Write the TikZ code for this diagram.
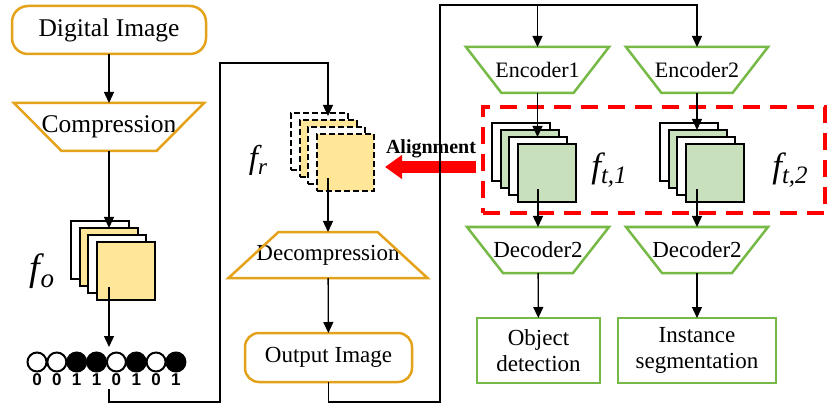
\documentclass[tikz,border=0pt]{standalone}
\usepackage{fontspec}
\setmainfont{Liberation Serif}
\newfontfamily\digitfont{Liberation Sans}
\usetikzlibrary{arrows.meta,calc}

\definecolor{goldline}{HTML}{E3A21A}
\definecolor{goldfill}{HTML}{FFE699}
\definecolor{leafline}{HTML}{76B947}
\definecolor{leaffill}{HTML}{C8E0BC}
\definecolor{alignred}{HTML}{FF0000}

\newcommand\fsz[2]{\fontsize{#1}{#2}\selectfont}

% outline of a trapezoid around a rectangular node: wide edge on top
\newcommand\trapdown[3]{%
  \draw[#2] (#1.north west) -- (#1.north east) -- ($(#1.south east)+(-#3,0)$)
    -- ($(#1.south west)+(#3,0)$) -- cycle;}
% wide edge at the bottom
\newcommand\trapup[3]{%
  \draw[#2] (#1.south west) -- (#1.south east) -- ($(#1.north east)+(-#3,0)$)
    -- ($(#1.north west)+(#3,0)$) -- cycle;}

% a stack of four feature maps; #1 prefix, #2,#3 top-left of the back map,
% #4 fill of maps 2 and 4, #5 border style, #6 side length
\newcommand\featstack[6]{%
  \foreach \i/\c in {1/white,2/#4,3/white,4/#4}{
    \node[stackmap,#5,fill=\c,minimum size=#6]
      (#1\i) at ({#2+8.67*(\i-1)+#6/2},{#3+7*(\i-1)+#6/2}) {};
  }}

\begin{document}
\begin{tikzpicture}[x=1pt,y=-1pt,
  conn/.style={line width=1.3pt,black},
  arr/.style={conn,-{Triangle[width=10pt,length=11pt]}},
  goldround/.style={draw=goldline,line width=2.5pt,rounded corners=16pt,
    inner sep=0pt,outer sep=0pt,font=\fsz{23}{26}},
  leafrect/.style={draw=leafline,line width=2.5pt,inner sep=0pt,outer sep=0pt,
    align=center,font=\fsz{23}{26}},
  trapnode/.style={inner sep=0pt,outer sep=0pt,font=\fsz{23}{26}},
  goldtrap/.style={draw=goldline,line width=2.5pt},
  leaftrap/.style={draw=leafline,line width=2.5pt},
  stackmap/.style={draw=black,line width=2.2pt,inner sep=0pt,outer sep=0pt},
  solidmap/.style={},
  dashmap/.style={dash pattern=on 6pt off 3pt},
  bitopen/.style={circle,draw=black,line width=2pt,fill=white,minimum size=19pt,inner sep=0pt},
  bitset/.style={circle,draw=black,line width=2pt,fill=black,minimum size=19pt,inner sep=0pt},
  bitdigit/.style={font=\digitfont\bfseries\fsz{17}{17},inner sep=0pt},
  flabel/.style={inner sep=0pt},
  tbox/.style={draw=alignred,line width=4pt,dash pattern=on 17pt off 10pt,
    inner sep=0pt,outer sep=0pt},
  redarrow/.style={draw=alignred,line width=12pt,
    -{Triangle[width=23pt,length=17pt]}},
]
\useasboundingbox (0,0) rectangle (827,406);

% ---------------- compression branch ----------------
\node[goldround,font=\fsz{25.5}{28},minimum width=194pt,minimum height=48pt] (dig) at (109,30) {Digital Image};
\node[trapnode,font=\fsz{25.5}{28},minimum width=190pt,minimum height=48pt] (comp) at (109,127) {Compression};
\trapdown{comp}{goldtrap}{47.5}

\featstack{fo}{71}{221}{goldfill}{solidmap}{58}
\node[flabel] (folab) at (42,271)
  {\fsz{38}{38}\itshape f\raisebox{-7pt}{\fsz{27}{27}o}};

\foreach \b [count=\k] in {0,0,1,1,0,1,0,1}{
  \ifnum\b=1
    \node[bitset] (bit\k) at ({37+19.85*(\k-1)},362) {};
  \else
    \node[bitopen] (bit\k) at ({37+19.85*(\k-1)},362) {};
  \fi
  \node[bitdigit] (dig\k) at ({37+19.85*(\k-1)},380) {\b};
}
\coordinate (bitin) at (109,347);
\coordinate (bitout) at (109,389);

\draw[arr] (dig) -- (comp);
\draw[arr] (comp) -- (comp.south |- fo2.north);
\draw[arr] ($(fo4.south -| comp.south)+(0,-13)$) -- (bitin);

% ---------------- decompression branch ----------------
\node[trapnode,minimum width=199pt,minimum height=46pt] (decomp) at (328,255) {Decompression};
\trapup{decomp}{goldtrap}{50}
\node[goldround,rounded corners=14pt,minimum width=167pt,minimum height=49pt] (out) at (328.5,357.5) {Output Image};

\featstack{fr}{291}{113}{goldfill}{dashmap}{57}
\node[flabel] (frlab) at (258,160)
  {\fsz{33}{33}\itshape f\raisebox{-6pt}{\fsz{23}{23}r}};

\coordinate (l1) at (220,402);
\coordinate (l2) at (220,63);
\draw[arr] (bitout) |- (l1) -- (l2) -| ($(decomp.north |- fr1.north)+(0,3)$);
\draw[arr] ($(fr4.south -| decomp.north)+(0,-13)$) -- (decomp);
\draw[arr] (decomp) -- (out);

% ---------------- task branches ----------------
\node[tbox,minimum width=342pt,minimum height=106pt] (tbox) at (654,160) {};

\node[trapnode,font=\fsz{22}{25},minimum width=143pt,minimum height=46pt] (enc1) at (537.5,70) {Encoder1};
\trapdown{enc1}{leaftrap}{35.5}
\node[trapnode,font=\fsz{22}{25},minimum width=142pt,minimum height=46pt] (enc2) at (697,70) {Encoder2};
\trapdown{enc2}{leaftrap}{35.5}

\featstack{fta}{492}{123}{leaffill}{solidmap}{58}
\featstack{ftb}{660}{123}{leaffill}{solidmap}{58}
\node[flabel] (ftalab) at (609,170)
  {\fsz{35}{35}\itshape f\raisebox{-6pt}{\fsz{25}{25}t,1}};
\node[flabel] (ftblab) at (790,170)
  {\fsz{35}{35}\itshape f\raisebox{-6pt}{\fsz{25}{25}t,2}};

\node[trapnode,minimum width=142pt,minimum height=46pt] (dec1) at (538,250) {Decoder2};
\trapdown{dec1}{leaftrap}{36}
\node[trapnode,minimum width=142pt,minimum height=46pt] (dec2) at (697,250) {Decoder2};
\trapdown{dec2}{leaftrap}{36}

\node[leafrect,minimum width=123pt,minimum height=65pt] (obj) at (538.5,350.5) {Object\\detection};
\node[leafrect,minimum width=158pt,minimum height=65pt] (inst) at (697,350.5) {Instance\\segmentation};

% alignment of the reconstructed features
\node[font=\bfseries\fsz{20}{20},inner sep=0pt] (align) at (431,149) {Alignment};
\coordinate (alS) at (476,167);
\coordinate (alE) at (385,167);
\draw[redarrow] (alS) -- (alE);

\coordinate (l3) at (440,402);
\coordinate (l4) at (440,5);
\draw[conn] (out) |- (l3) -- (l4) -- (enc1.north |- l4);
\draw[arr] (enc1.north |- l4) -- (enc1);
\draw[arr] (enc1.north |- l4) -| (enc2);

\draw[arr] (enc1) -- (enc1.south |- fta3.north);
\draw[arr] (enc2) -- (enc2.south |- ftb2.north);
\draw[arr] ($(fta4.south -| dec1.north)+(0,-13)$) -- (dec1);
\draw[arr] ($(ftb4.south -| dec2.north)+(0,-13)$) -- (dec2);
\draw[arr] (dec1) -- (obj);
\draw[arr] (dec2) -- (inst);
\end{tikzpicture}
\end{document}
